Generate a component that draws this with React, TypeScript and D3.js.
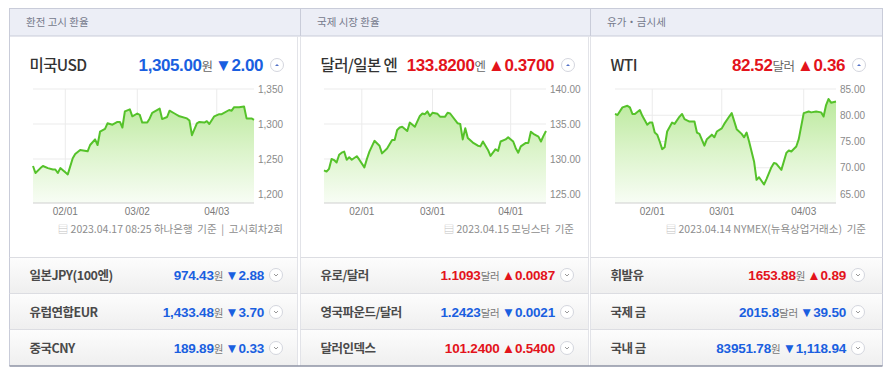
import React from "react";
import * as d3 from "d3";

// ---------- data ----------
const usdDates = ["01-19","01-20","01-22","01-23","01-25","01-27","01-28","01-29","01-30","02-01","02-02","02-04","02-05","02-07","02-10","02-11","02-13","02-14","02-15","02-17","02-18","02-20","02-22","02-23","02-24","02-25","02-27","02-28","03-02","03-03","03-04","03-06","03-07","03-08","03-11","03-12","03-14","03-15","03-17","03-19","03-22","03-23","03-24","03-26","03-27","03-29","03-30","03-31","04-02","04-04","04-05","04-08","04-09","04-10","04-12","04-14","04-15","04-17","04-18"];
const usdValues = [1240,1230,1237,1240,1237,1235,1235,1230,1237,1231,1228,1251,1257,1263,1261,1270,1278,1270,1289,1293,1301,1299,1303,1303,1295,1318,1321,1311,1315,1313,1302,1302,1308,1316,1322,1307,1310,1319,1315,1311,1308,1305,1284,1301,1303,1302,1304,1300,1311,1314,1314,1320,1319,1324,1324,1325,1308,1308,1306];

const jpyDates = ["01-17","01-18","01-19","01-20","01-21","01-22","01-23","01-24","01-25","01-26","01-27","01-28","01-30","01-31","02-02","02-03","02-04","02-06","02-08","02-09","02-11","02-13","02-14","02-15","02-16","02-17","02-19","02-20","02-22","02-24","02-25","02-26","02-27","02-28","03-01","03-03","03-04","03-06","03-07","03-08","03-11","03-12","03-13","03-14","03-15","03-17","03-19","03-20","03-21","03-23","03-24","03-26","03-27","03-28","03-30","03-31","04-02","04-03","04-04","04-05","04-07","04-08","04-09","04-10","04-12","04-13","04-14","04-15"];
const jpyValues = [128.37,128.2,128.6,130.0,129.85,129.5,130.6,130.9,131.05,129.9,130.25,129.9,130.4,129.9,128.8,130.0,131.05,132.6,131.9,130.8,131.5,132.7,132.7,134.15,134.5,134.6,134.0,135.2,134.6,136.15,136.5,136.4,136.8,136.15,136.6,136.45,136.05,136.05,136.6,136.5,135.1,135.0,132.8,134.4,133.0,132.35,131.9,131.8,132.5,131.3,130.45,131.4,131.15,132.5,132.8,133.1,132.5,131.55,130.9,131.8,132.3,132.3,133.9,133.6,133.2,132.5,133.3,134.0];

const wtiDates = ["01-17","01-18","01-20","01-22","01-23","01-24","01-25","01-27","01-28","01-30","01-31","02-01","02-02","02-03","02-04","02-05","02-06","02-07","02-09","02-10","02-12","02-13","02-14","02-16","02-18","02-19","02-20","02-22","02-23","02-25","02-26","02-27","03-01","03-02","03-04","03-05","03-07","03-09","03-10","03-11","03-12","03-14","03-15","03-16","03-18","03-19","03-21","03-22","03-23","03-25","03-27","03-28","03-29","03-31","04-01","04-03","04-05","04-06","04-08","04-10","04-11","04-12","04-13","04-14","04-16"];
const wtiValues = [80.25,80.05,81.5,81.8,81.5,80.25,80.25,81.0,79.9,78.2,78.6,78.6,76.7,76.3,75.0,73.55,73.9,76.9,78.6,78.35,79.75,80.25,79.25,78.8,78.8,76.7,76.45,74.2,75.45,76.3,75.8,76.9,77.5,78.35,79.75,80.4,77.35,76.45,75.8,76.7,75.0,71.2,67.7,68.2,66.8,67.85,70.1,70.9,70.75,69.6,72.8,73.3,73.1,74.05,75.45,80.4,80.7,80.55,80.7,80.55,79.75,81.95,83.1,82.4,82.6];

const headers = ["환전 고시 환율", "국제 시장 환율", "유가・금시세"];
const titles = ["미국USD", "달러/일본 엔", "WTI"];
const titleValues = ["1,305.00", "133.8200", "82.52"];
const titleUnits = ["원", "엔", "달러"];
const titleChanges = ["▼2.00", "▲0.3700", "▲0.36"];
const titleUp = [false, true, true];
const footnotes = ["2023.04.17 08:25 하나은행  기준  |  고시회차2회", "2023.04.15 모닝스타  기준", "2023.04.14 NYMEX(뉴욕상업거래소)  기준"];

const usdYTicks = [1200, 1250, 1300, 1350];
const jpyYTicks = [125, 130, 135, 140];
const wtiYTicks = [65, 70, 75, 80, 85];
const usdXTicks = ["02-01", "03-02", "04-03"];
const jpyXTicks = ["02-01", "03-01", "04-01"];
const wtiXTicks = ["02-01", "03-01", "04-03"];

const rowNames = [
  ["일본JPY(100엔)", "유럽연합EUR", "중국CNY"],
  ["유로/달러", "영국파운드/달러", "달러인덱스"],
  ["휘발유", "국제 금", "국내 금"],
];
const rowValues = [
  ["974.43", "1,433.48", "189.89"],
  ["1.1093", "1.2423", "101.2400"],
  ["1653.88", "2015.8", "83951.78"],
];
const rowUnits = [
  ["원", "원", "원"],
  ["달러", "달러", ""],
  ["원", "달러", "원"],
];
const rowChanges = [
  ["▼2.88", "▼3.70", "▼0.33"],
  ["▲0.0087", "▼0.0021", "▲0.5400"],
  ["▲0.89", "▼39.50", "▼1,118.94"],
];
const rowUp = [
  [false, false, false],
  [true, false, true],
  [true, false, false],
];

// ---------- styles ----------
const BLUE = "#1a5fe0";
const RED = "#e3131b";
const GREEN = "#55c22a";
const FONT = "'Liberation Sans', 'Noto Sans CJK KR', sans-serif";
const KFONT = "'Noto Sans CJK KR', 'Liberation Sans', sans-serif";

const parse = d3.timeParse("%Y-%m-%d");
const p = (d: string) => parse("2023-" + d) as Date;

type ChartProps = {
  id: string;
  dates: string[];
  values: number[];
  domain: [string, string];
  left: number;
  right: number;
  yDomain: [number, number];
  yTicks: number[];
  yFmt: (v: number) => string;
  xTicks: string[];
};

const TOP = 89;
const BOTTOM_TICK = 194;
const AXIS_Y = 203;

function MiniChart({ id, dates, values, domain, left, right, yDomain, yTicks, yFmt, xTicks }: ChartProps) {
  const x = d3.scaleTime().domain([p(domain[0]), p(domain[1])]).range([left, right]);
  const y = d3.scaleLinear().domain(yDomain).range([BOTTOM_TICK, TOP]);
  const pts = dates.map((d, i) => ({ d: p(d), v: values[i] }));
  const line = d3.line<{ d: Date; v: number }>().x((q) => x(q.d)).y((q) => y(q.v));
  const area = d3.area<{ d: Date; v: number }>().x((q) => x(q.d)).y0(AXIS_Y).y1((q) => y(q.v));
  return (
    <g>
      <defs>
        <linearGradient id={id} gradientUnits="userSpaceOnUse" x1="0" y1={TOP} x2="0" y2={AXIS_Y}>
          <stop offset="0" stopColor="#b4e793" />
          <stop offset="0.55" stopColor="#dcf4cb" />
          <stop offset="1" stopColor="#f8fdf5" />
        </linearGradient>
      </defs>
      {yTicks.map((t) => (
        <g key={t}>
          <line x1={left} x2={right} y1={y(t)} y2={y(t)} stroke="#ebebeb" />
          <text x={right + 4} y={y(t) + 3.5} fontSize={10} fill="#8a8a8a" fontFamily={FONT}>
            {yFmt(t)}
          </text>
        </g>
      ))}
      {xTicks.map((t) => (
        <g key={t}>
          <line x1={x(p(t))} x2={x(p(t))} y1={TOP} y2={AXIS_Y} stroke="#ebebeb" />
          <text x={x(p(t))} y={AXIS_Y + 12} fontSize={10} fill="#7a7a7a" textAnchor="middle" fontFamily={FONT}>
            {t.replace("-", "/")}
          </text>
        </g>
      ))}
      <path d={area(pts) || ""} fill={`url(#${id})`} />
      <path d={line(pts) || ""} fill="none" stroke={GREEN} strokeWidth={2} strokeLinejoin="round" />
      <line x1={left} x2={right} y1={AXIS_Y} y2={AXIS_Y} stroke="#cfcfcf" />
    </g>
  );
}

function CircleBtn({ cx, cy, up }: { cx: number; cy: number; up: boolean }) {
  return (
    <g>
      <circle cx={cx} cy={cy} r={6.5} fill="#fff" stroke="#d4d6de" />
      {up ? (
        <path d={`M${cx - 2},${cy + 1} L${cx},${cy - 1} L${cx + 2},${cy + 1} Z`} fill="#5573c8" />
      ) : (
        <path d={`M${cx - 2},${cy - 1} L${cx},${cy + 1} L${cx + 2},${cy - 1}`} fill="none" stroke="#999" strokeWidth={1} />
      )}
    </g>
  );
}

const cols = [
  { x0: 9.5, x1: 297.5, valRight: 263, btn: 277 },
  { x0: 300.5, x1: 588.5, valRight: 554, btn: 568 },
  { x0: 590.5, x1: 882.5, valRight: 845, btn: 859 },
];
const footRight = [283, 574, 866];
const rowCenters = [275, 312, 348];
const rowTops = [257, 293, 329, 366];

export default function App() {
  const fmtComma = d3.format(",");
  const fmt2 = d3.format(".2f");
  const charts = [
    { id: "g1", dates: usdDates, values: usdValues, domain: ["01-19", "04-18"] as [string, string], left: 33, right: 254, yDomain: [1200, 1350] as [number, number], yTicks: usdYTicks, yFmt: fmtComma, xTicks: usdXTicks },
    { id: "g2", dates: jpyDates, values: jpyValues, domain: ["01-17", "04-15"] as [string, string], left: 324, right: 546, yDomain: [125, 140] as [number, number], yTicks: jpyYTicks, yFmt: fmt2, xTicks: jpyXTicks },
    { id: "g3", dates: wtiDates, values: wtiValues, domain: ["01-17", "04-16"] as [string, string], left: 615, right: 836, yDomain: [65, 85] as [number, number], yTicks: wtiYTicks, yFmt: fmt2, xTicks: wtiXTicks },
  ];
  return (
    <svg width={890} height={374} style={{ position: "absolute", left: 0, top: 0, background: "#fff" }}>
      <defs>
        <linearGradient id="rowbg" x1="0" y1="0" x2="0" y2="1">
          <stop offset="0" stopColor="#fdfdfd" />
          <stop offset="1" stopColor="#efefef" />
        </linearGradient>
      </defs>
      {/* header band */}
      <rect x={9.5} y={8.5} width={873} height={27.5} fill="#eceef6" stroke="#c9ccd9" />
      {cols.slice(1).map((c, i) => (
        <line key={i} x1={c.x0} x2={c.x0} y1={8.5} y2={36} stroke="#c9ccd9" />
      ))}
      {headers.map((h, i) => (
        <text key={h} x={cols[i].x0 + 16.5} y={26} fontSize={10.5} fill="#757a8c" fontFamily={KFONT}>
          {h}
        </text>
      ))}
      {/* column boxes */}
      {cols.map((c, i) => (
        <g key={i}>
          <line x1={c.x0} x2={c.x0} y1={36} y2={366} stroke={i === 0 ? "#c9ccd9" : "#e2e3e8"} />
          <line x1={c.x1} x2={c.x1} y1={36} y2={366} stroke={i === 2 ? "#c9ccd9" : "#e2e3e8"} />
        </g>
      ))}
      {/* titles */}
      {cols.map((c, i) => (
        <g key={"t" + i}>
          <text x={c.x0 + 20} y={70.5} fontSize={15.5} fill="#333" fontFamily={KFONT} fontWeight={500} letterSpacing={-0.6}>
            {titles[i]}
          </text>
          <text x={c.valRight} y={70.5} textAnchor="end" fontFamily={FONT} fontWeight="bold" letterSpacing={-0.4}>
            <tspan fontSize={17} fill={titleUp[i] ? RED : BLUE}>{titleValues[i]}</tspan>
            <tspan fontSize={12.5} fill="#666" fontFamily={KFONT} fontWeight={400}>{titleUnits[i] + " "}</tspan>
            <tspan fontSize={17} fill={titleUp[i] ? RED : BLUE}>{titleChanges[i]}</tspan>
          </text>
          <CircleBtn cx={c.btn} cy={65} up={true} />
        </g>
      ))}
      {/* charts */}
      {charts.map((ch) => (
        <MiniChart key={ch.id} {...ch} />
      ))}
      {/* footnotes */}
      {footnotes.map((f, i) => (
        <g key={"f" + i}>
          <text x={footRight[i]} y={233} textAnchor="end" fontSize={10.5} fill="#8d8d8d" fontFamily={KFONT} style={{ whiteSpace: "pre" }}>
            <tspan fill="#c2c2c2">▤ </tspan>
            {f}
          </text>
        </g>
      ))}
      {/* table rows */}
      {cols.map((c, ci) =>
        rowCenters.map((yc, ri) => (
          <g key={ci + "-" + ri}>
            <rect x={c.x0 + 0.5} y={rowTops[ri]} width={c.x1 - c.x0 - 1} height={rowTops[ri + 1] - rowTops[ri]} fill="url(#rowbg)" />
            <line x1={c.x0} x2={c.x1} y1={rowTops[ri] + 0.5} y2={rowTops[ri] + 0.5} stroke="#dcdde2" />
            <text x={c.x0 + 20} y={yc + 4.5} fontSize={12.5} fill="#4a4a4a" fontFamily={KFONT} fontWeight={700} letterSpacing={-0.5}>
              {rowNames[ci][ri]}
            </text>
            <text x={c.valRight + 1} y={yc + 5} textAnchor="end" fontFamily={FONT} fontWeight="bold" letterSpacing={-0.2}>
              <tspan fontSize={13.5} fill={rowUp[ci][ri] ? RED : BLUE}>{rowValues[ci][ri]}</tspan>
              <tspan fontSize={10.5} fill="#777" fontFamily={KFONT} fontWeight={400}>{rowUnits[ci][ri] + " "}</tspan>
              <tspan fontSize={13.5} fill={rowUp[ci][ri] ? RED : BLUE}>{rowChanges[ci][ri]}</tspan>
            </text>
            <CircleBtn cx={c.btn - 1} cy={yc} up={false} />
          </g>
        ))
      )}
      <line x1={9.5} x2={882.5} y1={366} y2={366} stroke="#8e93a4" strokeWidth={1.5} />
    </svg>
  );
}
